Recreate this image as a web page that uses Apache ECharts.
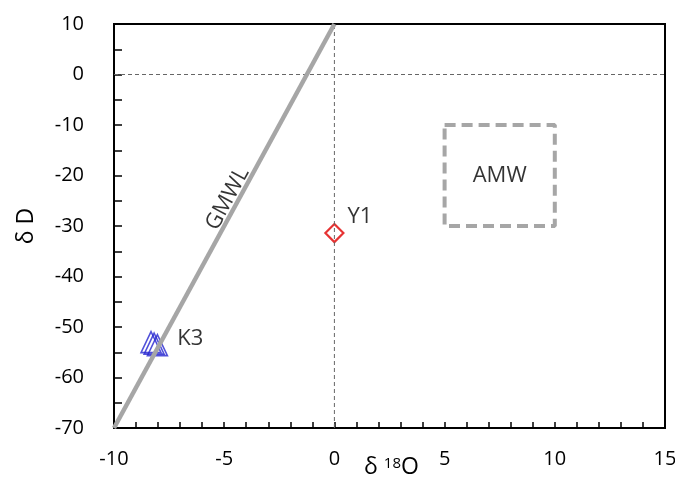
<style>body { margin: 0; }</style>
<div id="main" style="width: 675px; height: 482px"></div>
<script src="https://cdn.jsdelivr.net/npm/echarts@6/dist/echarts.min.js"></script>
<script>
  var chartDom = document.getElementById('main');
  var myChart = echarts.init(chartDom);
  var option;

  // GMWL: dD = 8 * d18O + 10
  const gmwl = [[-10, -70], [0, 10]];
  const k3 = [[-8.32, -53], [-8.18, -53.3], [-8.03, -53.6]];
  const y1 = [[0, -31.4]];
  const amwBox = [[5, -10], [10, -10], [10, -30], [5, -30], [5, -10]];
  const zeroV = [[0, -70], [0, 10]];
  const zeroH = [[-10, 0], [15, 0]];
  const labelsAt = { gmwl: [-4.85, -24.6], amw: [7.5, -20] };

  const font = 'Open Sans';

  option = {
    animation: false,
    grid: {
      left: 114, right: 10, top: 24, bottom: 54,
      outerBoundsMode: 'none', containLabel: false,
      show: true, borderColor: '#000', borderWidth: 2,
    },
    xAxis: {
      type: 'value', min: -10, max: 15, interval: 5,
      name: '{d|δ }{s|18}{d|O}',
      nameLocation: 'middle', nameGap: 28, nameMoveOverlap: false,
      nameTextStyle: {
        padding: [0, 0, 0, 4],
        rich: {
          d: { fontSize: 23, fontFamily: font, color: '#000' },
          s: { fontSize: 15, fontFamily: font, color: '#000', verticalAlign: 'top', padding: [0, 0, 8, 0] },
        },
      },
      axisLine: { onZero: false, lineStyle: { color: '#000', width: 2 } },
      axisTick: { inside: true, length: 6, lineStyle: { color: '#000', width: 1.5 } },
      minorTick: { show: true, splitNumber: 5, length: 6, lineStyle: { color: '#000', width: 1.5 } },
      axisLabel: { fontSize: 20, fontFamily: font, color: '#000', margin: 21 },
      splitLine: { show: false },
    },
    yAxis: {
      type: 'value', min: -70, max: 10, interval: 10,
      name: 'δ D', nameLocation: 'middle', nameGap: 76, nameMoveOverlap: false,
      nameTextStyle: { fontSize: 23, fontFamily: font, color: '#000' },
      axisLine: { onZero: false, lineStyle: { color: '#000', width: 2 } },
      axisTick: { inside: true, length: 8, lineStyle: { color: '#000', width: 1.5 } },
      minorTick: { show: true, splitNumber: 2, length: 8, lineStyle: { color: '#000', width: 1.5 } },
      axisLabel: { fontSize: 20, fontFamily: font, color: '#000', margin: 30 },
      splitLine: { show: false },
    },
    series: [
      {
        type: 'line', data: zeroV, symbol: 'none', silent: true,
        lineStyle: { color: '#666', width: 1, type: [4, 3] },
      },
      {
        type: 'line', data: zeroH, symbol: 'none', silent: true,
        lineStyle: { color: '#666', width: 1, type: [4, 3] },
      },
      {
        type: 'line', data: gmwl, symbol: 'none',
        lineStyle: { color: '#a6a6a6', width: 4.5 },
      },
      {
        type: 'line', data: amwBox, symbol: 'none',
        lineStyle: { color: '#a6a6a6', width: 4, type: [11, 6] },
      },
      {
        type: 'scatter', data: [labelsAt.gmwl], symbolSize: 0,
        label: {
          show: true, position: 'inside', formatter: 'GMWL', rotate: 61.5,
          fontSize: 22, fontFamily: font, color: '#000',
        },
      },
      {
        type: 'scatter', data: [labelsAt.amw], symbolSize: 0,
        label: {
          show: true, position: 'inside', formatter: 'AMW',
          fontSize: 22, fontFamily: font, color: '#000',
        },
      },
      {
        type: 'scatter', data: y1, symbol: 'diamond', symbolSize: [18, 18],
        itemStyle: { color: '#fff', borderColor: '#e00000', borderWidth: 2.2 },
        label: {
          show: true, formatter: 'Y1', position: 'right', offset: [-2, -16],
          fontSize: 22, fontFamily: font, color: '#000',
        },
      },
      {
        type: 'scatter', data: k3, symbol: 'triangle', symbolSize: [20, 21],
        itemStyle: { color: 'rgba(255,255,255,0)', borderColor: '#2525d0', borderWidth: 1.6 },
        label: {
          show: true,
          formatter: (p) => (p.dataIndex === 2 ? 'K3' : ''),
          position: 'right', offset: [4, -6],
          fontSize: 22, fontFamily: font, color: '#000',
        },
      },
    ],
  };

  option && myChart.setOption(option);
</script>
